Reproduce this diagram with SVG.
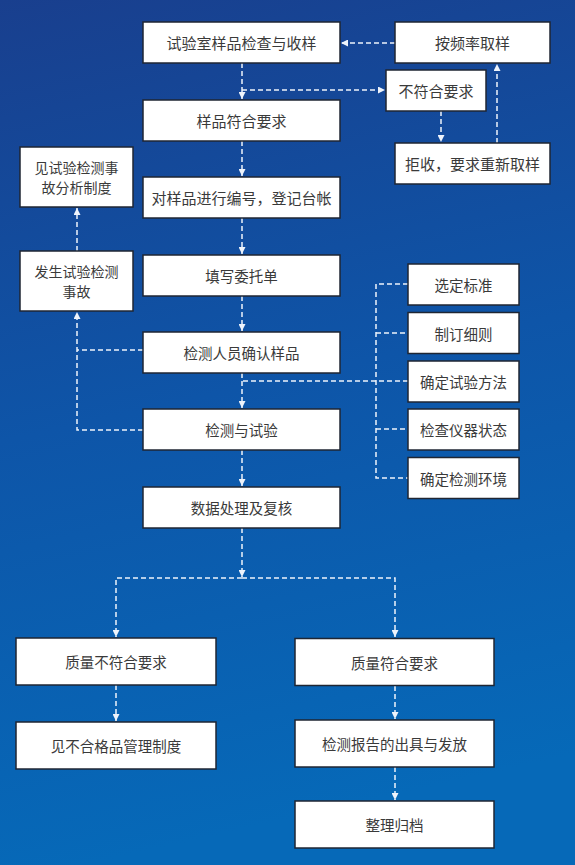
<svg xmlns="http://www.w3.org/2000/svg" width="575" height="865" viewBox="0 0 575 865">
  <defs>
    <linearGradient id="bg" x1="0" y1="0" x2="0.15" y2="1">
      <stop offset="0" stop-color="#193f8e"/>
      <stop offset="0.5" stop-color="#0e55a8"/>
      <stop offset="1" stop-color="#0669b8"/>
    </linearGradient>
    <marker id="arr" viewBox="0 0 10 10" refX="10" refY="5" markerWidth="7" markerHeight="7" markerUnits="userSpaceOnUse" orient="auto">
      <path d="M0,0 L10,5 L0,10 z" fill="#eef3fb"/>
    </marker>
    <style>
      .box rect { fill: #ffffff; stroke: #1f2633; stroke-width: 1.5; }
      .box text { font-family: "Noto Sans CJK SC", "Noto Sans", sans-serif; font-size: 14.5px; fill: #3a3a3a; text-anchor: middle; dominant-baseline: central; }
      .big text { font-size: 15px; }
      .two text { font-size: 14px; }
      .conn path { fill: none; stroke: #eef3fb; stroke-width: 1.5; stroke-dasharray: 5 3; }
    </style>
  </defs>
  <rect width="575" height="865" fill="url(#bg)"/>

  <g id="connectors" class="conn">
    <path d="M395,43 H341" marker-end="url(#arr)"/>
    <path d="M242,63 V99" marker-end="url(#arr)"/>
    <path d="M242,90 H385" marker-end="url(#arr)"/>
    <path d="M441,111 V142" marker-end="url(#arr)"/>
    <path d="M497,143 V64" marker-end="url(#arr)"/>
    <path d="M242,141 V176" marker-end="url(#arr)"/>
    <path d="M242,218 V254" marker-end="url(#arr)"/>
    <path d="M242,296 V331" marker-end="url(#arr)"/>
    <path d="M242,373 V408" marker-end="url(#arr)"/>
    <path d="M408,381 H242"/>
    <path d="M408,284 H376 V478 H408"/>
    <path d="M376,333 H408"/>
    <path d="M376,429 H408"/>
    <path d="M143,350 H77"/>
    <path d="M143,430 H77 V312" marker-end="url(#arr)"/>
    <path d="M77,251 V208" marker-end="url(#arr)"/>
    <path d="M242,450 V486" marker-end="url(#arr)"/>
    <path d="M242,528 V577" marker-end="url(#arr)"/>
    <path d="M242,578 H116 V637" marker-end="url(#arr)"/>
    <path d="M242,578 H395 V637" marker-end="url(#arr)"/>
    <path d="M116,685 V721" marker-end="url(#arr)"/>
    <path d="M395,686 V719" marker-end="url(#arr)"/>
    <path d="M395,767 V800" marker-end="url(#arr)"/>
  </g>

  <g id="n-shouyang" class="box big"><rect x="143" y="22" width="197" height="41"/><text x="241.5" y="42.5">试验室样品检查与收样</text></g>
  <g id="n-quyang" class="box big"><rect x="395" y="22" width="155" height="41"/><text x="472.5" y="42.5">按频率取样</text></g>
  <g id="n-bufuhe" class="box big"><rect x="386" y="70" width="100" height="41"/><text x="436" y="90.5">不符合要求</text></g>
  <g id="n-fuhe" class="box big"><rect x="143" y="100" width="197" height="41"/><text x="241.5" y="120.5">样品符合要求</text></g>
  <g id="n-jushou" class="box big"><rect x="395" y="143" width="155" height="41"/><text x="472.5" y="163.5">拒收，要求重新取样</text></g>
  <g id="n-shiguzhidu" class="box two"><rect x="20" y="147" width="113" height="60"/><text x="76.5" y="167">见试验检测事</text><text x="76.5" y="187">故分析制度</text></g>
  <g id="n-bianhao" class="box big"><rect x="143" y="177" width="197" height="41"/><text x="241.5" y="197.5">对样品进行编号，登记台帐</text></g>
  <g id="n-shigu" class="box two"><rect x="20" y="251" width="113" height="60"/><text x="76.5" y="271">发生试验检测</text><text x="76.5" y="291">事故</text></g>
  <g id="n-weituo" class="box"><rect x="143" y="255" width="197" height="41"/><text x="241.5" y="275.5">填写委托单</text></g>
  <g id="n-queren" class="box"><rect x="143" y="332" width="197" height="41"/><text x="241.5" y="352.5">检测人员确认样品</text></g>
  <g id="n-jiance" class="box"><rect x="143" y="409" width="197" height="41"/><text x="241.5" y="429.5">检测与试验</text></g>
  <g id="n-shuju" class="box"><rect x="143" y="487" width="197" height="41"/><text x="241.5" y="507.5">数据处理及复核</text></g>

  <g id="n-biaozhun" class="box"><rect x="408" y="264" width="111" height="41"/><text x="463.5" y="284.5">选定标准</text></g>
  <g id="n-xize" class="box"><rect x="408" y="312.5" width="111" height="41"/><text x="463.5" y="333">制订细则</text></g>
  <g id="n-fangfa" class="box"><rect x="408" y="361" width="111" height="41"/><text x="463.5" y="381.5">确定试验方法</text></g>
  <g id="n-yiqi" class="box"><rect x="408" y="409" width="111" height="41"/><text x="463.5" y="429.5">检查仪器状态</text></g>
  <g id="n-huanjing" class="box"><rect x="408" y="457.5" width="111" height="41"/><text x="463.5" y="478">确定检测环境</text></g>

  <g id="n-zhiliangbu" class="box"><rect x="16" y="638" width="200" height="47"/><text x="116" y="661.5">质量不符合要求</text></g>
  <g id="n-zhiliangfu" class="box"><rect x="295" y="638.5" width="199" height="47"/><text x="394.5" y="662">质量符合要求</text></g>
  <g id="n-buhege" class="box"><rect x="16" y="722" width="200" height="47"/><text x="116" y="745.5">见不合格品管理制度</text></g>
  <g id="n-baogao" class="box"><rect x="295" y="720" width="199" height="47"/><text x="394.5" y="743.5">检测报告的出具与发放</text></g>
  <g id="n-guidang" class="box"><rect x="295" y="801" width="199" height="47"/><text x="394.5" y="824.5">整理归档</text></g>
</svg>
